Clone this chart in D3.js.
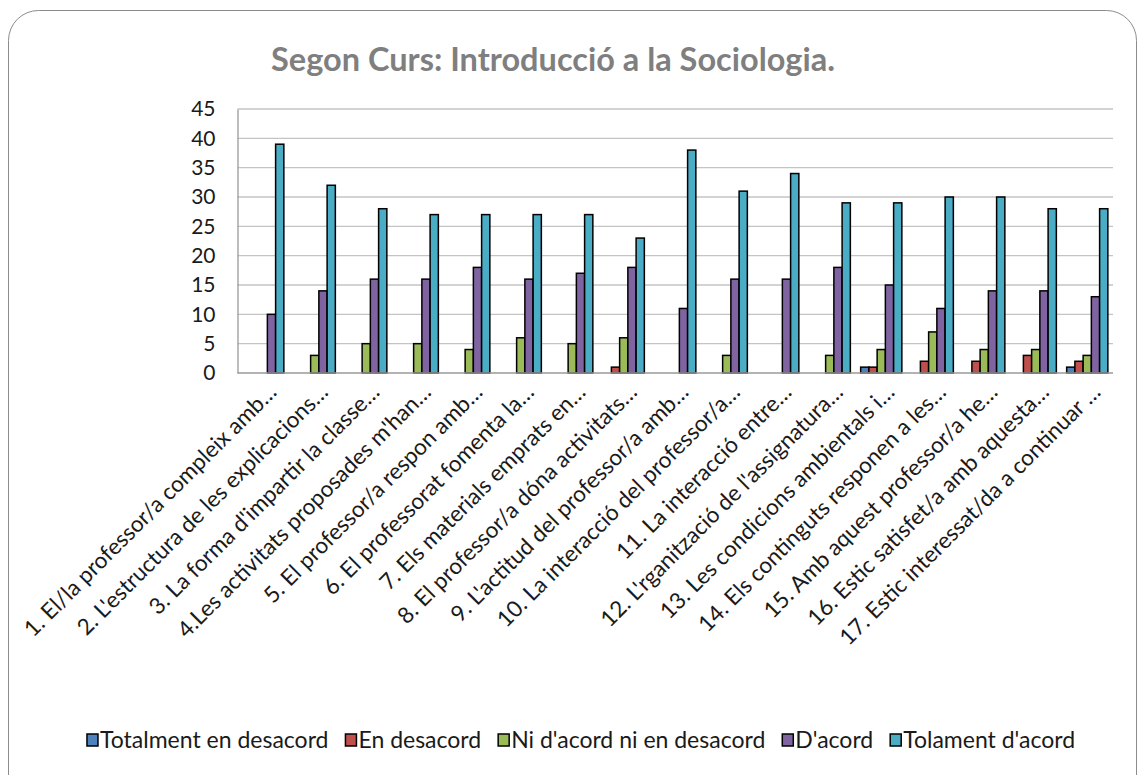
<!DOCTYPE html>
<html lang="ca">
<head>
<meta charset="utf-8">
<script src="https://d3js.org/d3.v7.min.js"></script>
<style>
  body { margin: 0; background: #fff; }
  svg text { font-family: Lato, "Open Sans", sans-serif; }
</style>
</head>
<body>
<script>
  // categories (x axis)
  let categories = [
    "1. El/la professor/a compleix amb…",
    "2. L'estructura de les explicacions…",
    "3. La forma d'impartir la classe…",
    "4.Les activitats proposades m'han…",
    "5. El professor/a respon amb…",
    "6. El professorat fomenta la…",
    "7. Els materials emprats en…",
    "8. El professor/a dóna activitats…",
    "9. L'actitud del professor/a amb…",
    "10. La interacció del professor/a…",
    "11. La interacció entre…",
    "12. L'rganització de l'assignatura…",
    "13. Les condicions ambientals i…",
    "14. Els continguts responen a les…",
    "15. Amb aquest professor/a he…",
    "16. Estic satisfet/a amb aquesta…",
    "17. Estic interessat/da a continuar …"
  ];
  let seriesNames = ["Totalment en desacord", "En desacord", "Ni d'acord ni en desacord", "D'acord", "Tolament d'acord"];
  let totalmentDesacord = [0, 0, 0, 0, 0, 0, 0, 0, 0, 0, 0, 0, 1, 0, 0, 0, 1];
  let enDesacord        = [0, 0, 0, 0, 0, 0, 0, 1, 0, 0, 0, 0, 1, 2, 2, 3, 2];
  let niNi              = [0, 3, 5, 5, 4, 6, 5, 6, 0, 3, 0, 3, 4, 7, 4, 4, 3];
  let dAcord            = [10, 14, 16, 16, 18, 16, 17, 18, 11, 16, 16, 18, 15, 11, 14, 14, 13];
  let tolamentAcord     = [39, 32, 28, 27, 27, 27, 27, 23, 38, 31, 34, 29, 29, 30, 30, 28, 28];
  let yTicks = [0, 5, 10, 15, 20, 25, 30, 35, 40, 45];

  let colors = ["#4f81bd", "#c0504d", "#9bbb59", "#8064a2", "#4bacc6"];
  let allSeries = [totalmentDesacord, enDesacord, niNi, dAcord, tolamentAcord];

  var width = 1145, height = 775;
  var plotLeft = 237.5, plotRight = 1113, plotTop = 109, plotBottom = 373;

  var svg = d3.select("body").append("svg")
    .attr("width", width)
    .attr("height", height);

  // outer frame
  svg.append("rect")
    .attr("x", 8.5).attr("y", 10.5)
    .attr("width", 1128).attr("height", 800)
    .attr("rx", 30).attr("ry", 30)
    .attr("fill", "#fff")
    .attr("stroke", "#8c8c8c")
    .attr("stroke-width", 1);

  svg.append("text")
    .attr("x", 553).attr("y", 71)
    .attr("text-anchor", "middle")
    .attr("font-size", 32.5)
    .attr("font-weight", "bold")
    .attr("fill", "#7f7f7f")
    .text("Segon Curs: Introducció a la Sociologia.");

  var y = d3.scaleLinear().domain([0, 45]).range([plotBottom, plotTop]);
  var x0 = d3.scaleBand().domain(categories).range([plotLeft, plotRight]).padding(0);
  var gap = x0.bandwidth() * 0.2;
  var x1 = d3.scaleBand().domain(d3.range(5)).range([gap / 2, x0.bandwidth() - gap / 2]).padding(0);

  // gridlines
  svg.append("g").selectAll("line")
    .data(yTicks.filter(d => d > 0))
    .enter().append("line")
    .attr("x1", plotLeft).attr("x2", plotRight)
    .attr("y1", d => y(d)).attr("y2", d => y(d))
    .attr("stroke", "#c4c4c4")
    .attr("stroke-width", 1.3);

  // y axis
  var yAxis = svg.append("g")
    .attr("transform", "translate(" + plotLeft + ",0)")
    .call(d3.axisLeft(y).tickValues(yTicks).tickSize(0).tickPadding(22));
  yAxis.select(".domain").attr("stroke", "#9a9a9a").attr("stroke-width", 1.3);
  yAxis.selectAll("text").attr("font-size", 21).attr("fill", "#1a1a1a")
    .attr("font-family", "Lato, 'Open Sans', sans-serif");

  // bars
  var groups = svg.append("g").selectAll("g")
    .data(categories)
    .enter().append("g")
    .attr("transform", d => "translate(" + x0(d) + ",0)");

  groups.selectAll("rect")
    .data((d, i) => allSeries.map((s, j) => ({ j: j, v: s[i] })).filter(e => e.v > 0))
    .enter().append("rect")
    .attr("x", d => x1(d.j))
    .attr("y", d => y(d.v))
    .attr("width", x1.bandwidth())
    .attr("height", d => plotBottom - y(d.v))
    .attr("fill", d => colors[d.j])
    .attr("stroke", "#000")
    .attr("stroke-width", 1.5);

  // x axis line
  svg.append("line")
    .attr("x1", plotLeft).attr("x2", plotRight)
    .attr("y1", plotBottom).attr("y2", plotBottom)
    .attr("stroke", "#9a9a9a")
    .attr("stroke-width", 1.3);

  // x labels
  svg.append("g").selectAll("text")
    .data(categories)
    .enter().append("text")
    .attr("transform", d => "translate(" + (x0(d) + x0.bandwidth() / 2 + 9) + "," + 388 + ") rotate(-45)")
    .attr("text-anchor", "end")
    .attr("dy", "0.35em")
    .attr("font-size", 22.5)
    .attr("fill", "#1a1a1a")
    .text(d => d);

  // legend
  var legend = svg.append("g");
  var items = legend.selectAll("g")
    .data(seriesNames)
    .enter().append("g");
  items.append("rect")
    .attr("width", 11).attr("height", 12)
    .attr("y", -14)
    .attr("fill", (d, i) => colors[i])
    .attr("stroke", "#000")
    .attr("stroke-width", 1.5);
  items.append("text")
    .attr("x", 13)
    .attr("font-size", 23)
    .attr("fill", "#1a1a1a")
    .text(d => d);
  var xpos = 0;
  items.each(function() {
    var w = this.getBBox().width;
    d3.select(this).attr("transform", "translate(" + xpos + ",0)");
    xpos += w + 17;
  });
  var total = xpos - 17;
  legend.attr("transform", "translate(" + (581 - total / 2) + ",748)");
</script>
</body>
</html>
